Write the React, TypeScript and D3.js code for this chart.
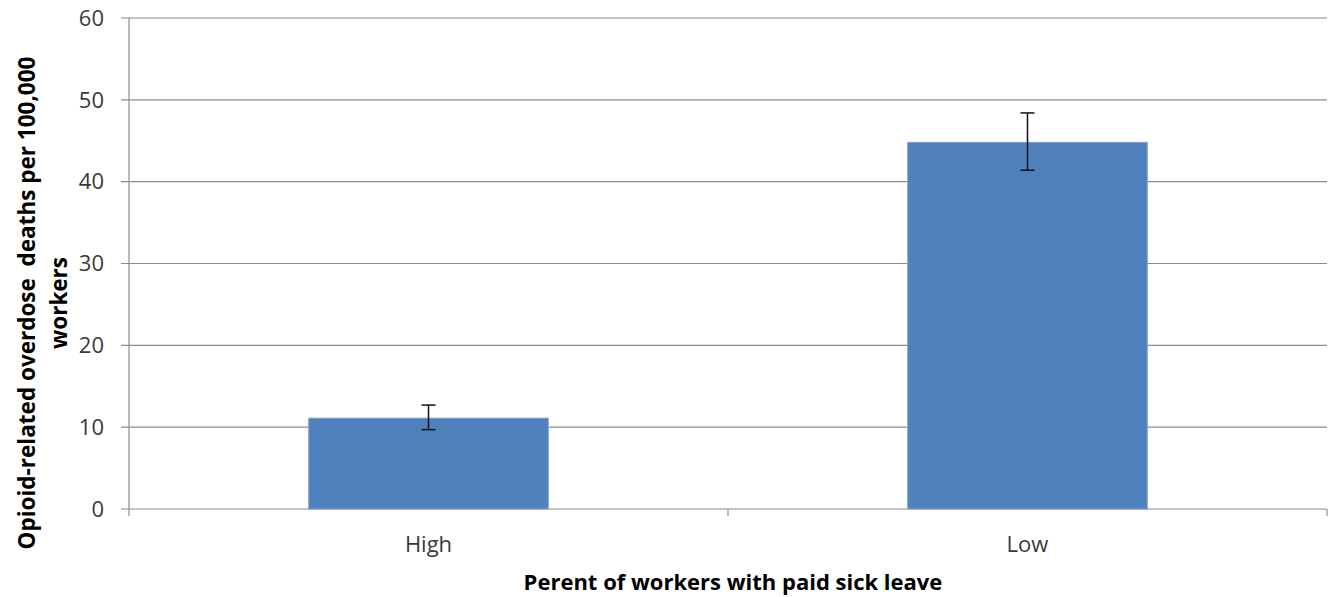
import { useEffect, useRef } from 'react';
import * as d3 from 'd3';

const categories = ['High', 'Low'];
const values = [11.1, 44.8];
const errLow = [9.7, 41.4];
const errHigh = [12.7, 48.4];
const yTicks = [0, 10, 20, 30, 40, 50, 60];

const W = 1329;
const H = 597;

export default function App() {
  const svgRef = useRef<SVGSVGElement>(null);

  useEffect(() => {
    if (!svgRef.current) return;
    const svg = d3.select(svgRef.current);
    svg.selectAll('*').remove();

    const margin = { left: 129, right: 2, top: 18, bottom: 88 };
    const x = d3
      .scaleBand()
      .domain(categories)
      .range([margin.left, W - margin.right])
      .padding(0);
    const y = d3.scaleLinear().domain([0, 60]).range([H - margin.bottom, margin.top]);

    const font = "'Open Sans', 'Noto Sans', sans-serif";
    const g = svg.append('g');

    // grid lines
    g.selectAll('.grid')
      .data(yTicks)
      .enter()
      .append('line')
      .attr('x1', margin.left - 8)
      .attr('x2', W - margin.right)
      .attr('y1', (d) => y(d))
      .attr('y2', (d) => y(d))
      .attr('stroke', '#8c8c8c')
      .attr('stroke-width', 1.2);

    // y axis line
    g.append('line')
      .attr('x1', margin.left)
      .attr('x2', margin.left)
      .attr('y1', y(60))
      .attr('y2', y(0))
      .attr('stroke', '#8c8c8c')
      .attr('stroke-width', 1.2);

    // x ticks below axis
    const xEdges = [margin.left, margin.left + x.step(), W - margin.right];
    g.selectAll('.xtick')
      .data(xEdges)
      .enter()
      .append('line')
      .attr('x1', (d) => d)
      .attr('x2', (d) => d)
      .attr('y1', y(0))
      .attr('y2', y(0) + 7)
      .attr('stroke', '#8c8c8c')
      .attr('stroke-width', 1.2);

    // y tick labels
    g.selectAll('.ylab')
      .data(yTicks)
      .enter()
      .append('text')
      .attr('x', margin.left - 25)
      .attr('y', (d) => y(d))
      .attr('dy', '0.35em')
      .attr('text-anchor', 'end')
      .attr('font-family', font)
      .attr('font-size', '22px')
      .attr('fill', '#3a3a3a')
      .text((d) => String(d));

    // bars
    const barW = x.bandwidth() * 0.4;
    g.selectAll('.bar')
      .data(categories)
      .enter()
      .append('rect')
      .attr('x', (d) => (x(d) || 0) + x.bandwidth() / 2 - barW / 2)
      .attr('y', (_d, i) => y(values[i]))
      .attr('width', barW)
      .attr('height', (_d, i) => y(0) - y(values[i]))
      .attr('fill', '#4F81BD')
      .attr('stroke', '#7fa3d1')
      .attr('stroke-width', 1);

    // error bars
    const cap = 7;
    categories.forEach((c, i) => {
      const cx = (x(c) || 0) + x.bandwidth() / 2;
      g.append('line')
        .attr('x1', cx)
        .attr('x2', cx)
        .attr('y1', y(errHigh[i]))
        .attr('y2', y(errLow[i]))
        .attr('stroke', '#111')
        .attr('stroke-width', 1.5);
      [errHigh[i], errLow[i]].forEach((v) => {
        g.append('line')
          .attr('x1', cx - cap)
          .attr('x2', cx + cap)
          .attr('y1', y(v))
          .attr('y2', y(v))
          .attr('stroke', '#111')
          .attr('stroke-width', 1.5);
      });
    });

    // category labels
    g.selectAll('.xlab')
      .data(categories)
      .enter()
      .append('text')
      .attr('x', (d) => (x(d) || 0) + x.bandwidth() / 2)
      .attr('y', y(0) + 43)
      .attr('text-anchor', 'middle')
      .attr('font-family', font)
      .attr('font-size', '22px')
      .attr('fill', '#3a3a3a')
      .text((d) => d);

    // x axis title
    g.append('text')
      .attr('x', 733)
      .attr('y', 590)
      .attr('text-anchor', 'middle')
      .attr('font-family', font)
      .attr('font-size', '22px')
      .attr('font-weight', 'bold')
      .attr('fill', '#000')
      .text('Perent of workers with paid sick leave');

    // y axis title (two lines)
    const yt = g.append('text')
      .attr('transform', `translate(0,303) rotate(-90)`)
      .attr('text-anchor', 'middle')
      .attr('font-family', font)
      .attr('font-size', '22.5px')
      .attr('font-weight', 'bold')
      .attr('fill', '#000')
      .style('white-space', 'pre');
    yt.append('tspan').attr('x', 0).attr('y', 35).text('Opioid-related overdose  deaths per 100,000');
    yt.append('tspan').attr('x', 0).attr('y', 67).text('workers');
  }, []);

  return (
    <svg
      ref={svgRef}
      width={W}
      height={H}
      style={{ display: 'block', position: 'absolute', left: 0, top: 0, background: '#fff' }}
    />
  );
}
